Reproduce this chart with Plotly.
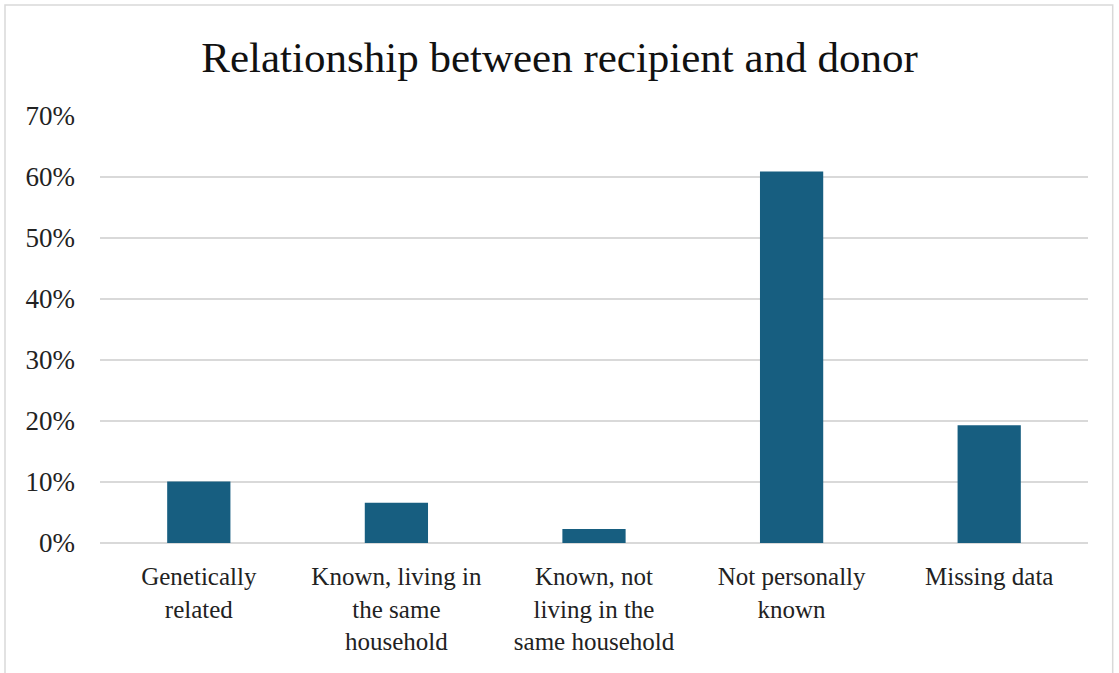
import plotly.graph_objects as go

categories = ["Genetically<br>related", "Known, living in<br>the same<br>household",
              "Known, not<br>living in the<br>same household", "Not personally<br>known", "Missing data"]
values = [0.101, 0.066, 0.023, 0.609, 0.193]
tick_vals = [0, 0.1, 0.2, 0.3, 0.4, 0.5, 0.6, 0.7]
tick_text = ["0%", "10%", "20%", "30%", "40%", "50%", "60%", "70%"]

fig = go.Figure()
fig.add_trace(go.Bar(x=categories, y=values, marker=dict(color="#175e80", line=dict(width=0)),
                     width=0.32))

font_family = "Liberation Serif, Times New Roman, serif"
fig.update_layout(
    width=1119, height=673,
    margin=dict(l=100, r=31, t=116, b=130),
    paper_bgcolor="white", plot_bgcolor="white",
    font=dict(family=font_family, color="#222222", size=25),
    title=dict(text="Relationship between recipient and donor", x=0.5, xanchor="center",
               y=1 - 57 / 673, yanchor="middle", font=dict(size=43, family=font_family, color="#111111")),
    showlegend=False,
    bargap=0.68,
)
fig.update_xaxes(showgrid=False, showline=False, ticks="", ticklabelstandoff=16,
                 tickfont=dict(size=25, color="#222222"))
fig.update_yaxes(range=[0, 0.7], tickvals=tick_vals, ticktext=tick_text, showgrid=True,
                 gridcolor="#d9d9d9", gridwidth=1.5, zeroline=True, zerolinecolor="#d9d9d9",
                 zerolinewidth=1.5, ticks="", ticklabelstandoff=24, tickfont=dict(size=27, color="#222222"))
fig.add_shape(type="rect", xref="paper", yref="paper", x0=-95 / 988, x1=1.025, y0=-0.5, y1=1 + 111 / 427,
              line=dict(color="#d9d9d9", width=1.5), fillcolor="rgba(0,0,0,0)", layer="below")
fig.write_html("out.html")
